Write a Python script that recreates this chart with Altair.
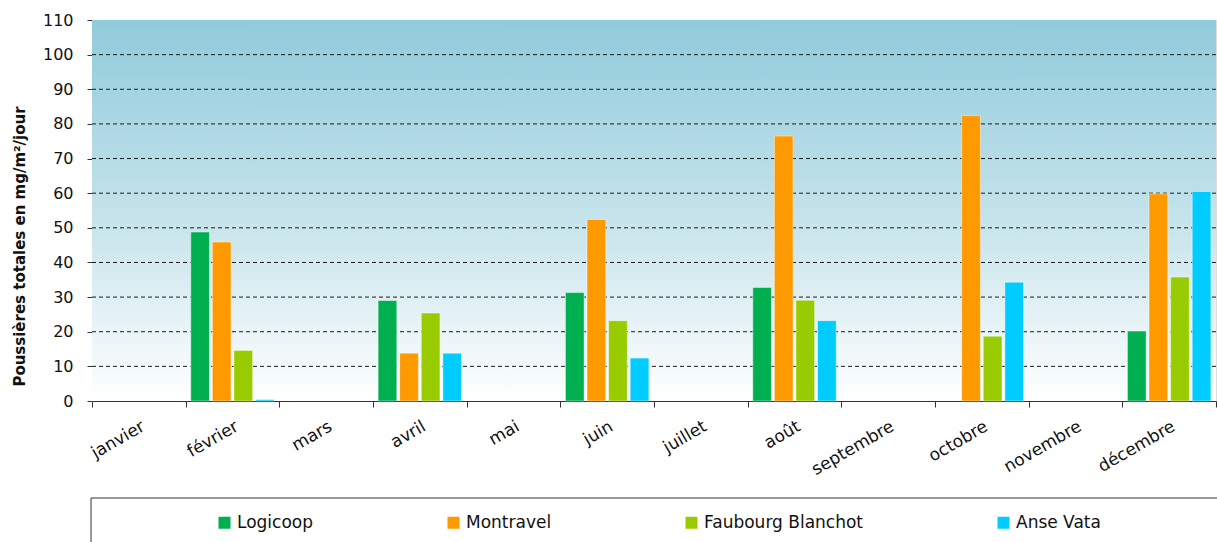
import altair as alt
import pandas as pd

# Monthly total dust deposition (mg/m²/day) per monitoring station
months = ["janvier", "février", "mars", "avril", "mai", "juin", "juillet",
          "août", "septembre", "octobre", "novembre", "décembre"]
stations = ["Logicoop", "Montravel", "Faubourg Blanchot", "Anse Vata"]
logicoop = [None, 48.8, None, 29.0, None, 31.3, None, 32.8, None, None, None, 20.2]
montravel = [None, 45.9, None, 13.8, None, 52.4, None, 76.5, None, 82.4, None, 59.8]
faubourg_blanchot = [None, 14.6, None, 25.4, None, 23.2, None, 29.1, None, 18.7, None, 35.8]
anse_vata = [None, 0.4, None, 13.8, None, 12.4, None, 23.2, None, 34.3, None, 60.5]
station_colors = ["#00B050", "#FF9900", "#99CC00", "#00CCFF"]
y_ticks = [0, 10, 20, 30, 40, 50, 60, 70, 80, 90, 100, 110]
grid_levels = [10, 20, 30, 40, 50, 60, 70, 80, 90, 100]

series = [logicoop, montravel, faubourg_blanchot, anse_vata]
rows = []
for name, vals in zip(stations, series):
    for m, v in zip(months, vals):
        if v is not None:
            rows.append({"mois": m, "station": name, "value": v})
bars_df = pd.DataFrame(rows)
grid_df = pd.DataFrame({"value": grid_levels})
one_row = pd.DataFrame({"k": [0]})

FONT = "DejaVu Sans"

y_enc = alt.Y(
    "value:Q",
    scale=alt.Scale(domain=[0, 110], nice=False, zero=True),
    axis=alt.Axis(
        values=y_ticks, grid=False, tickSize=5, tickColor="#333",
        domainColor="#666", domainDash=[2, 1], labelPadding=14,
        labelFontSize=16, labelColor="#111", labelFont=FONT,
        title="Poussières totales  en mg/m²/jour", titleFontSize=15,
        titleFontWeight="bold", titleColor="#111", titleFont=FONT,
        titleAngle=-90, titleAlign="center", titleBaseline="alphabetic",
        titleX=-68, titleY=226,
    ),
)

# Plot-area gradient, teal at the top fading to white at the baseline
background = alt.Chart(one_row).mark_rect(
    fill=alt.Gradient(
        gradient="linear",
        stops=[alt.GradientStop(color="#90CBDB", offset=0),
               alt.GradientStop(color="#C3E2EA", offset=0.5),
               alt.GradientStop(color="#FFFFFF", offset=1)],
        x1=0, y1=0, x2=0, y2=1,
    )
).encode(x=alt.value(0), x2=alt.value("width"), y=alt.value(0), y2=alt.value("height"))

grid = alt.Chart(grid_df).mark_rule(
    color="#1a1a1a", strokeDash=[4, 3], strokeWidth=1
).encode(y=y_enc)

bars = alt.Chart(bars_df).mark_bar(
    stroke="white", strokeOpacity=0.45, strokeWidth=1
).encode(
    x=alt.X(
        "mois:N",
        scale=alt.Scale(domain=months, paddingInner=0, paddingOuter=0),
        axis=alt.Axis(
            title=None, tickBand="extent", tickSize=6, tickColor="#333",
            domainColor="#333", labelAngle=-30, labelAlign="right",
            labelBaseline="top", labelPadding=11, labelFontSize=17,
            labelColor="#111", labelFont=FONT, labelOverlap=False,
            labelFlush=False,
        ),
    ),
    xOffset=alt.XOffset(
        "station:N",
        scale=alt.Scale(domain=stations, paddingInner=0.134, paddingOuter=0.236),
    ),
    y=y_enc,
    color=alt.Color(
        "station:N",
        scale=alt.Scale(domain=stations, range=station_colors),
        legend=alt.Legend(
            title=None, orient="none", legendX=124, legendY=494,
            direction="horizontal", columns=4, columnPadding=131,
            symbolType="square", symbolSize=144, symbolStrokeWidth=0,
            symbolOpacity=1, labelFontSize=17, labelFont=FONT,
            labelColor="#111", labelOffset=4, padding=0,
        ),
    ),
)

# Frame around the legend strip below the axis
legend_frame = alt.Chart(one_row).mark_rect(
    fillOpacity=0, stroke="#333", strokeWidth=1
).encode(x=alt.value(-1), x2=alt.value(1130), y=alt.value(478), y2=alt.value(545))

chart = alt.layer(background, grid, bars, legend_frame).properties(
    width=1124, height=381,
    autosize=alt.AutoSizeParams(type="none"),
    padding={"left": 92, "top": 20, "right": 1, "bottom": 141},
).configure_view(
    stroke="#8a8a8a", strokeDash=[2, 2], strokeWidth=1
).configure(background="white")

chart.save("out.html", embed_options={"renderer": "svg", "actions": False})
